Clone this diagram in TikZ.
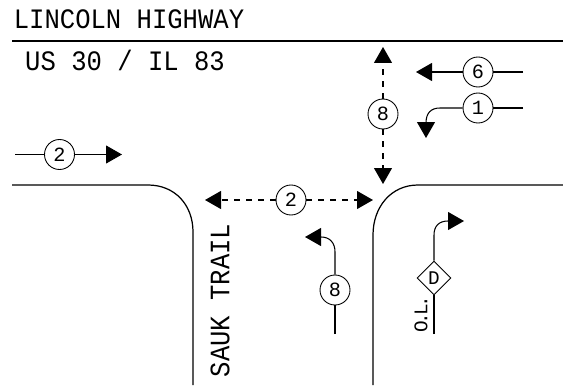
\documentclass[tikz,border=0pt]{standalone}
\usepackage{fontspec}
\usepackage{tikz}
\usetikzlibrary{shapes.geometric,arrows.meta}
\newfontfamily\cadfont{Liberation Mono}
\newfontfamily\cadtall[FakeStretch=0.91]{Liberation Mono}
\tikzset{
  road/.style={line width=0.7pt},
  move/.style={line width=0.6pt,-{Triangle[length=3.2mm,width=3.6mm]}},
  plain/.style={line width=0.6pt},
  ped/.style={move,dash pattern=on 3.4pt off 3.4pt},
  phase/.style={circle,draw,line width=0.5pt,minimum size=0.6cm,inner sep=0pt,font=\cadfont\fontsize{11.5}{12}\selectfont},
  overlap/.style={diamond,draw,line width=0.5pt,minimum size=0.68cm,inner sep=0pt,font=\cadfont\fontsize{11}{12}\selectfont},
  street/.style={font=\cadtall\fontsize{16}{18}\selectfont,inner sep=0pt}
}
\begin{document}
\begin{tikzpicture}[x=0.02cm,y=-0.02cm]
     \useasboundingbox (0,0) rectangle (563,388);
     \draw [road] (12,41) -- (563,41);
     \draw [road] (12,185) -- (148,185) .. controls (175,185) and (193,205) .. (193,232) -- (193,385);
     \draw [road] (563,185) -- (418,185) .. controls (391,185) and (373,207) .. (373,235) -- (373,385);
     \node [street] (lincoln) at (129,19) {LINCOLN HIGHWAY};
     \node [street] (us) at (125,60) {US 30 / IL 83};
     \node [street,rotate=90] (sauk) at (220,300.5) {SAUK TRAIL};
     \node [phase] (p2a) at (59.5,154.5) {2};
     \node [phase] (p8a) at (383,114) {8};
     \node [phase] (p6) at (478,72) {6};
     \node [phase] (p1) at (478,108) {1};
     \node [phase] (p2b) at (291,200) {2};
     \node [phase] (p8b) at (335,290) {8};
     \node [overlap] (d) at (434,278) {D};
     \node [font=\cadfont\fontsize{11}{12}\selectfont,inner sep=0pt,rotate=90] (ol) at (421,314) {O\kern-1.8pt.\kern-1.8pt L\kern-1.8pt.};
     \coordinate (a2s) at (15,154.5);
     \coordinate (a2e) at (122,154.5);
     \coordinate (a8t) at (383,47);
     \coordinate (a8b) at (383,184);
     \coordinate (a6s) at (523,72);
     \coordinate (a6e) at (416,72);
     \coordinate (a1s) at (523,108);
     \coordinate (a1e) at (426,138);
     \coordinate (b2l) at (205,200);
     \coordinate (b2r) at (373,200);
     \coordinate (b8s) at (335,334);
     \coordinate (b8e) at (305,237);
     \coordinate (ds) at (434,334);
     \coordinate (de) at (464,221);
     \draw [plain] (a2s) -- (p2a);
     \draw [move] (p2a) -- (a2e);
     \draw [ped] (p8a) -- (a8t);
     \draw [ped] (p8a) -- (a8b);
     \draw [plain] (a6s) -- (p6);
     \draw [move] (p6) -- (a6e);
     \draw [plain] (a1s) -- (p1);
     \draw [move] (p1) -- (440,108) .. controls (431,108) and (426,113) .. (426,123) -- (a1e);
     \draw [ped] (p2b) -- (b2l);
     \draw [ped] (p2b) -- (b2r);
     \draw [plain] (b8s) -- (p8b);
     \draw [move] (p8b) -- (335,252) .. controls (335,243) and (330,237) .. (321,237) -- (b8e);
     \draw [plain] (ds) -- (d);
     \draw [move] (d) -- (434,235) .. controls (434,226) and (439,221) .. (448,221) -- (de);
 \end{tikzpicture}
\end{document}
